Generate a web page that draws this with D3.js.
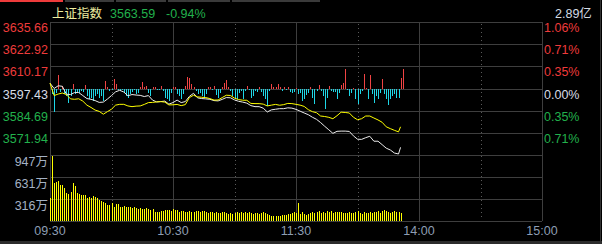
<!DOCTYPE html>
<html>
<head>
<meta charset="utf-8">
<script src="https://cdn.jsdelivr.net/npm/d3@7"></script>
<style>
body { margin: 0; background: #000; }
svg { display: block; }
text { font-family: "Liberation Sans", "Noto Sans CJK SC", sans-serif; font-size: 12.5px; }
</style>
</head>
<body>
<div id="chart"></div>
<script>

var indexName = "上证指数";
var lastPrice = "3563.59";
var changePct = "-0.94%";
var turnover = "2.89亿";
var preClose = 3597.43;

var priceTicks = [3635.66, 3622.92, 3610.17, 3597.43, 3584.69, 3571.94, 3559.20];
var priceTickLabels = ["3635.66", "3622.92", "3610.17", "3597.43", "3584.69", "3571.94"];
var pctTickLabels = ["1.06%", "0.71%", "0.35%", "0.00%", "0.35%", "0.71%"];
var volTicks = [947, 631, 316, 0];
var volTickLabels = ["947万", "631万", "316万"];
var timeTicks = [0, 60, 120, 180, 240];
var timeTickLabels = ["09:30", "10:30", "11:30", "14:00", "15:00"];
var halfHourTicks = [30, 90, 150, 210];

// minute index of each price sample (0 = 09:30, 120 = 11:30, 121 = 13:01)
var priceMinutes = [0,2,4,6,8,10,12,14,16,18,20,22,24,26,28,30,32,34,36,38,40,42,44,46,48,50,52,54,56,58,
  60,62,64,66,68,70,72,74,76,78,80,82,84,86,88,90,92,94,96,98,100,102,104,106,108,110,112,114,116,118,
  120,122,124,126,128,130,132,134,136,138,140,142,144,146,148,150,152,154,156,158,160,162,164,166,168,170,171];

var priceLine = [3600.50,3597.43,3598.99,3598.70,3594.13,3593.95,3595.11,3595.11,3593.37,3591.64,
  3591.23,3590.48,3589.44,3589.61,3591.35,3593.37,3595.52,3596.39,3595.40,3593.26,
  3593.95,3593.66,3593.49,3592.80,3593.37,3590.77,3589.73,3589.90,3590.19,3588.45,
  3589.32,3590.77,3589.32,3589.90,3592.91,3594.65,3592.04,3591.64,3591.46,3591.23,
  3590.48,3590.30,3591.17,3592.22,3592.10,3590.88,3590.07,3589.61,3589.03,3587.58,
  3587.00,3587.00,3586.13,3583.93,3585.15,3585.50,3585.84,3585.84,3586.31,3586.13,
  3585.44,3584.40,3583.35,3582.37,3580.92,3579.70,3577.85,3575.71,3573.68,3571.65,
  3572.81,3572.93,3572.93,3572.75,3570.20,3568.29,3568.18,3569.16,3569.97,3567.13,
  3567.13,3565.16,3563.14,3562.09,3560.35,3559.78,3563.59];

var avgLine = [3600.50,3593.37,3594.24,3594.82,3593.95,3591.46,3591.23,3591.52,3590.19,3587.87,
  3586.54,3585.03,3584.28,3582.66,3584.11,3585.55,3587.87,3588.33,3588.33,3587.41,
  3587.00,3587.29,3587.41,3588.28,3589.32,3589.44,3589.73,3589.90,3589.61,3587.99,
  3588.05,3588.28,3587.58,3588.16,3592.22,3593.55,3592.62,3592.39,3592.22,3591.64,
  3590.77,3590.83,3592.22,3593.55,3593.43,3591.87,3591.06,3590.71,3590.65,3588.86,
  3588.74,3588.74,3588.45,3587.41,3587.87,3588.28,3587.81,3588.16,3588.86,3588.74,
  3588.33,3587.87,3587.12,3585.26,3584.11,3583.53,3581.61,3581.33,3580.86,3580.05,
  3581.79,3583.82,3583.64,3583.35,3580.92,3579.47,3580.05,3581.61,3581.61,3580.46,
  3579.36,3578.02,3575.42,3574.37,3573.39,3572.52,3575.42];

// buy/sell strength per minute, positive = red up, negative = cyan down
var strength = [0,
  -5,-23,-4,14,-3,3,-5,-7,-14,-7,5,-5,-3,-4,-2,-3,4,-7,-10,-9,
  -12,-7,-5,-9,-7,-12,8,2,-2,-1,10,5,-1,-2,-1,-4,-7,-9,-5,-3,
  -1,-5,-4,2,7,2,3,-4,-7,2,2,-1,-1,3,-2,-9,-10,-12,-4,
  2,2,-5,-7,-10,-5,3,12,11,5,2,-2,-5,-4,-7,-9,-5,2,2,-1,
  3,-6,-9,-4,2,6,9,2,-2,-7,-9,-10,-4,-2,-10,-2,3,-1,-9,-7,
  -2,-3,2,-3,-7,-10,-17,-2,5,2,2,5,2,-2,2,-1,2,-3,-4,-3,
  1,-5,-4,-12,-10,-6,-4,2,-9,-15,-2,4,-2,-7,-20,-9,3,-2,-3,-3,
  -10,-4,4,6,20,-1,-7,-4,1,-10,-15,-5,-2,15,1,-10,14,-5,-14,-7,
  -10,-4,10,-5,-10,-16,-10,-7,-5,-9,-9,11,20];

// volume per minute, in 万
var volume = [326,933,541,564,574,517,517,469,407,387,
  421,550,502,407,387,373,373,373,325,340,
  325,359,340,325,301,292,278,263,230,230,
  263,206,239,244,206,206,215,206,196,196,
  182,196,182,167,182,167,167,182,167,158,
  167,134,134,134,144,144,153,158,158,144,
  167,153,153,134,144,144,134,134,144,134,
  134,144,144,129,144,144,129,115,129,129,
  115,129,115,115,129,122,115,100,115,100,
  115,129,115,129,115,129,115,129,115,100,
  115,115,100,115,129,115,100,86,72,72,
  72,72,72,79,86,86,100,100,115,129,
  115,263,100,129,100,86,100,115,129,115,
  129,144,115,129,115,144,129,144,115,129,
  129,129,129,115,115,115,129,115,115,129,
  144,115,100,129,115,115,129,115,129,129,
  144,115,144,158,144,129,115,129,144,129,
  129,115];

var red = "#ee3b3b";
var green = "#22b14c";
var gridColor = "#3e3e3e";

document.addEventListener('DOMContentLoaded', function() {
  drawChart();
});

function crisp(v) { return Math.round(v) + 0.5; }

function drawChart() {
  var svg = d3.select("#chart").append("svg")
    .attr("width", 602)
    .attr("height", 244);

  svg.append("rect").attr("width", 602).attr("height", 244).attr("fill", "#000");

  var x = d3.scaleLinear().domain([0, 240]).range([50, 542]);
  var yPrice = d3.scaleLinear().domain([3559.20, 3635.66]).range([155, 22]);
  var yVol = d3.scaleLinear().domain([0, 947]).range([221, 155]);
  var zeroY = crisp(yPrice(preClose)) - 0.5;
  var yBar = d3.scaleLinear().domain([-25, 25]).range([zeroY + 25, zeroY - 25]);

  // top tabs and bottom strip
  var tabs = [[0, 63, red], [65, 114, "#3a3a3a"], [116, 166, "#3a3a3a"], [168, 230, "#3a3a3a"], [232, 320, "#3a3a3a"]];
  svg.selectAll(".tab").data(tabs).enter().append("rect")
    .attr("x", d => d[0]).attr("y", 0)
    .attr("width", d => d[1] - d[0]).attr("height", 2)
    .attr("fill", d => d[2]);
  svg.append("rect").attr("x", 0).attr("y", 241).attr("width", 602).attr("height", 3).attr("fill", "#2c2c2c");
  svg.append("line").attr("x1", 600.5).attr("x2", 600.5).attr("y1", 0).attr("y2", 244)
    .attr("stroke", "#333");

  var grid = svg.append("g").attr("shape-rendering", "crispEdges");
  grid.selectAll(".hp").data(priceTicks).enter().append("line")
    .attr("x1", x(0)).attr("x2", x(240))
    .attr("y1", d => crisp(yPrice(d))).attr("y2", d => crisp(yPrice(d)))
    .attr("stroke", gridColor);
  grid.selectAll(".hv").data(volTicks).enter().append("line")
    .attr("x1", x(0)).attr("x2", x(240))
    .attr("y1", d => crisp(yVol(d))).attr("y2", d => crisp(yVol(d)))
    .attr("stroke", gridColor);
  grid.selectAll(".vs").data(timeTicks).enter().append("line")
    .attr("x1", d => crisp(x(d))).attr("x2", d => crisp(x(d)))
    .attr("y1", 22).attr("y2", 221)
    .attr("stroke", gridColor);
  grid.selectAll(".vd").data(halfHourTicks).enter().append("line")
    .attr("x1", d => crisp(x(d))).attr("x2", d => crisp(x(d)))
    .attr("y1", 24).attr("y2", 219)
    .attr("stroke", "#5a5a5a")
    .attr("stroke-dasharray", "1,3");

  // strength bars around the previous close
  svg.append("g").attr("shape-rendering", "crispEdges")
    .selectAll("line").data(strength).enter().append("line")
    .attr("x1", (d, i) => crisp(x(i))).attr("x2", (d, i) => crisp(x(i)))
    .attr("y1", yBar(0))
    .attr("y2", d => yBar(d))
    .attr("stroke", d => d >= 0 ? "#f04444" : "#1ed6e6");

  // volume bars
  svg.append("g").attr("shape-rendering", "crispEdges")
    .selectAll("rect").data(volume).enter().append("rect")
    .attr("x", (d, i) => Math.round(x(i)))
    .attr("width", 1)
    .attr("y", d => yVol(d))
    .attr("height", d => yVol(0) - yVol(d))
    .attr("fill", "#ffff00");

  var line = d3.line()
    .x((d, i) => x(priceMinutes[i]))
    .y(d => yPrice(d));

  svg.append("path").datum(priceLine)
    .attr("d", line).attr("fill", "none")
    .attr("stroke", "#ececec").attr("stroke-width", 1);
  svg.append("path").datum(avgLine)
    .attr("d", line).attr("fill", "none")
    .attr("stroke", "#ffff00").attr("stroke-width", 1);

  // axis labels
  svg.selectAll(".pl").data(priceTickLabels).enter().append("text")
    .attr("x", 48).attr("y", (d, i) => crisp(yPrice(priceTicks[i])) + 9.5)
    .attr("text-anchor", "end")
    .attr("fill", (d, i) => i < 3 ? red : (i == 3 ? "#d8dde6" : green))
    .text(d => d);
  svg.selectAll(".rl").data(pctTickLabels).enter().append("text")
    .attr("x", 544).attr("y", (d, i) => crisp(yPrice(priceTicks[i])) + 9.5)
    .attr("fill", (d, i) => i < 3 ? red : (i == 3 ? "#d8dde6" : green))
    .text(d => d);
  svg.selectAll(".vl").data(volTickLabels).enter().append("text")
    .attr("x", 48).attr("y", (d, i) => crisp(yVol(volTicks[i])) + 10)
    .attr("text-anchor", "end")
    .attr("fill", "#a4b2c4")
    .text(d => d);
  svg.selectAll(".tl").data(timeTickLabels).enter().append("text")
    .attr("x", (d, i) => x(timeTicks[i])).attr("y", 235)
    .attr("text-anchor", "middle")
    .attr("fill", "#8d9db3")
    .text(d => d);

  // header
  svg.append("text").attr("x", 52).attr("y", 18).attr("fill", "#eeeea0").text(indexName);
  svg.append("text").attr("x", 110).attr("y", 18).attr("fill", green).text(lastPrice);
  svg.append("text").attr("x", 166).attr("y", 18).attr("fill", green).text(changePct);
  svg.append("text").attr("x", 555).attr("y", 18).attr("fill", "#d4dbe4").text(turnover);
}
</script>
</body>
</html>
